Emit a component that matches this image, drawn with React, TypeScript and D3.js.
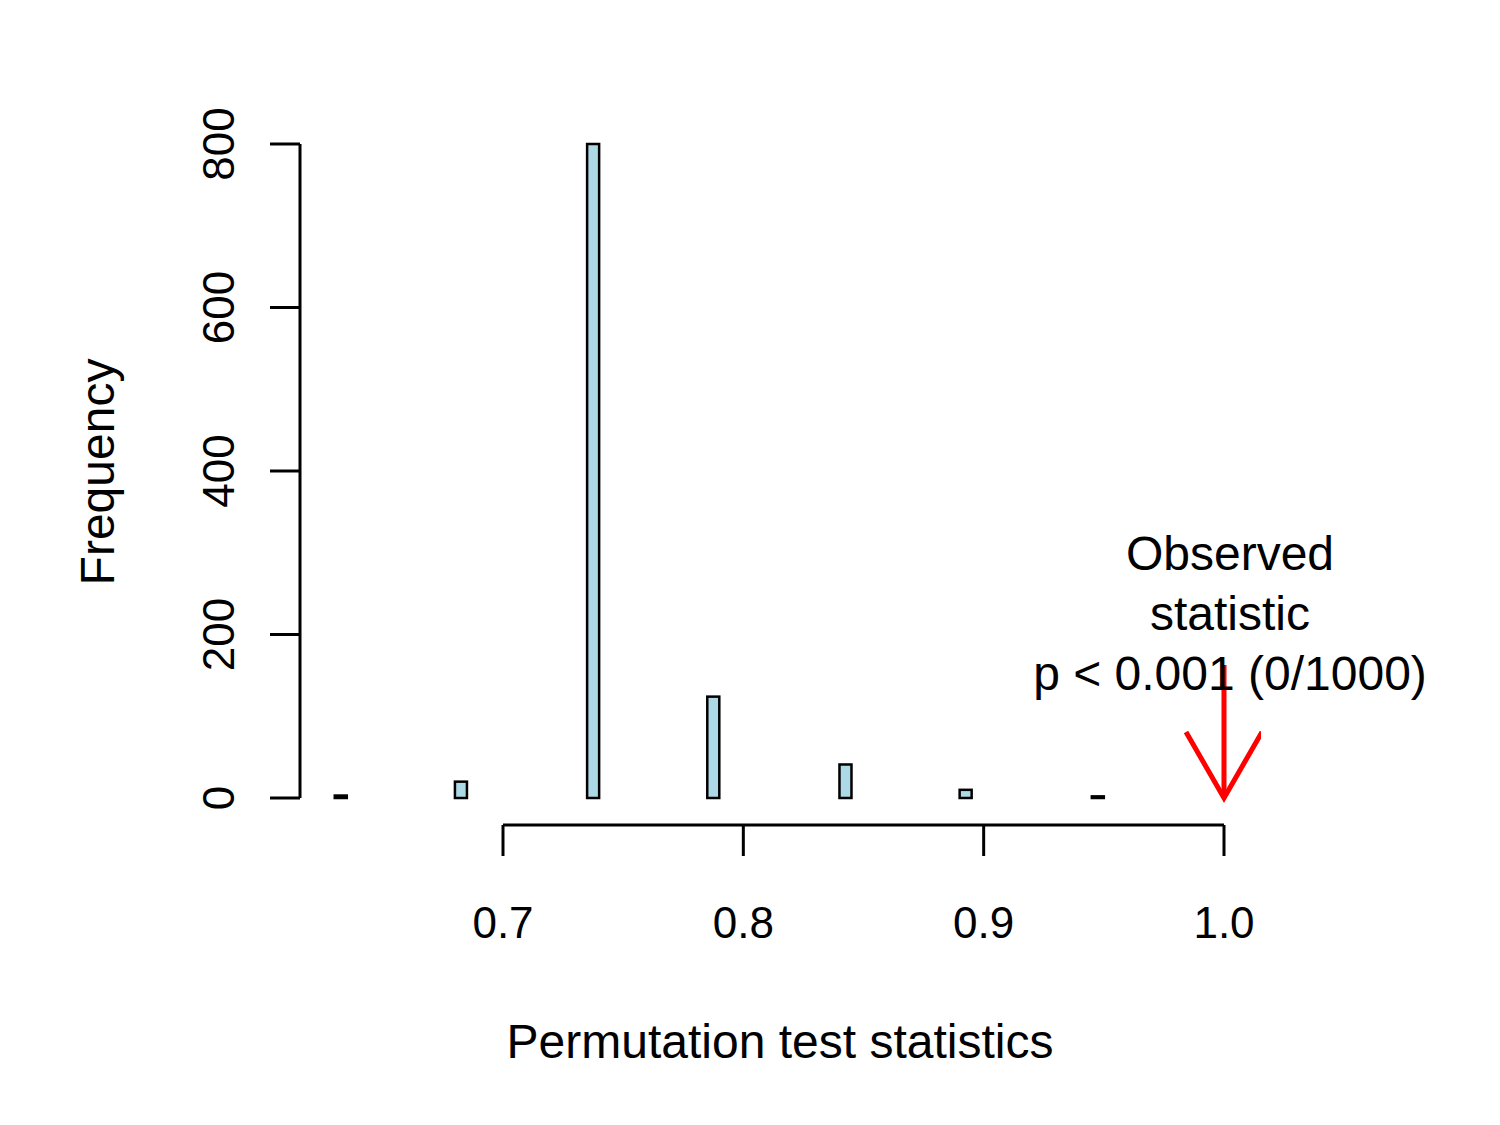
import { useEffect } from 'react'
import * as d3 from 'd3'

// histogram breaks: width 0.005 from 0.630 to 1.000
const binStart = 0.63
const binWidth = 0.005
const binCount = 74
// non-zero bins: lower edge -> count
const barLefts = [0.63, 0.68, 0.735, 0.785, 0.84, 0.89, 0.945]
const barCounts = [3, 20, 800, 124, 41, 10, 2]
const xTicks = [0.7, 0.8, 0.9, 1.0]
const yTicks = [0, 200, 400, 600, 800]
const observed = 1.0
const noteLines = ['Observed', 'statistic', 'p < 0.001 (0/1000)']

const W = 1500
const H = 1125
const font = 'Liberation Sans, Arial, sans-serif'

export default function App() {
  useEffect(() => {
    document.body.style.margin = '0'
  }, [])

  const x = d3.scaleLinear().domain([0.7, 1.0]).range([503, 1224])
  const y = d3.scaleLinear().domain([0, 800]).range([798, 144])

  const bins = d3.range(binCount).map((i) => {
    const lo = +(binStart + i * binWidth).toFixed(3)
    const k = barLefts.findIndex((b) => Math.abs(b - lo) < 1e-9)
    return { lo, hi: lo + binWidth, n: k >= 0 ? barCounts[k] : 0 }
  })

  const ax = x(observed)
  return (
    <svg width={W} height={H} style={{ display: 'block', background: '#fff' }}>
      <defs>
        <clipPath id="plot">
          <rect x={0} y={0} width={1261} height={H} />
        </clipPath>
      </defs>
      {bins.map((b, i) => (
        <rect
          key={i}
          x={x(b.lo)}
          y={y(b.n)}
          width={x(b.hi) - x(b.lo)}
          height={y(0) - y(b.n)}
          fill="#ADD8E6"
          stroke="#000"
          strokeWidth={2.5}
        />
      ))}
      {/* x axis */}
      <line x1={x(0.7)} x2={x(1.0)} y1={825} y2={825} stroke="#000" strokeWidth={3} />
      {xTicks.map((t) => (
        <g key={t}>
          <line x1={x(t)} x2={x(t)} y1={825} y2={856} stroke="#000" strokeWidth={3} />
          <text x={x(t)} y={938} textAnchor="middle" fontFamily={font} fontSize={44}>
            {t.toFixed(1)}
          </text>
        </g>
      ))}
      {/* y axis */}
      <line x1={300} x2={300} y1={y(800)} y2={y(0)} stroke="#000" strokeWidth={3} />
      {yTicks.map((t) => (
        <g key={t}>
          <line x1={270} x2={300} y1={y(t)} y2={y(t)} stroke="#000" strokeWidth={3} />
          <text
            transform={`translate(234,${y(t)}) rotate(-90)`}
            textAnchor="middle"
            fontFamily={font}
            fontSize={44}
          >
            {t}
          </text>
        </g>
      ))}
      <text x={780} y={1058} textAnchor="middle" fontFamily={font} fontSize={48}>
        Permutation test statistics
      </text>
      <text
        transform="translate(114,472) rotate(-90)"
        textAnchor="middle"
        fontFamily={font}
        fontSize={48}
      >
        Frequency
      </text>
      {/* observed arrow */}
      <g clipPath="url(#plot)" stroke="#FF0000" strokeWidth={5} fill="none">
        <line x1={ax} x2={ax} y1={665} y2={y(0)} />
        <polyline points={`${ax - 38},${732} ${ax},${y(0)} ${ax + 38},${732}`} />
      </g>
      {noteLines.map((s, i) => (
        <text
          key={i}
          x={1230}
          y={570 + i * 60}
          textAnchor="middle"
          fontFamily={font}
          fontSize={48}
        >
          {s}
        </text>
      ))}
    </svg>
  )
}
